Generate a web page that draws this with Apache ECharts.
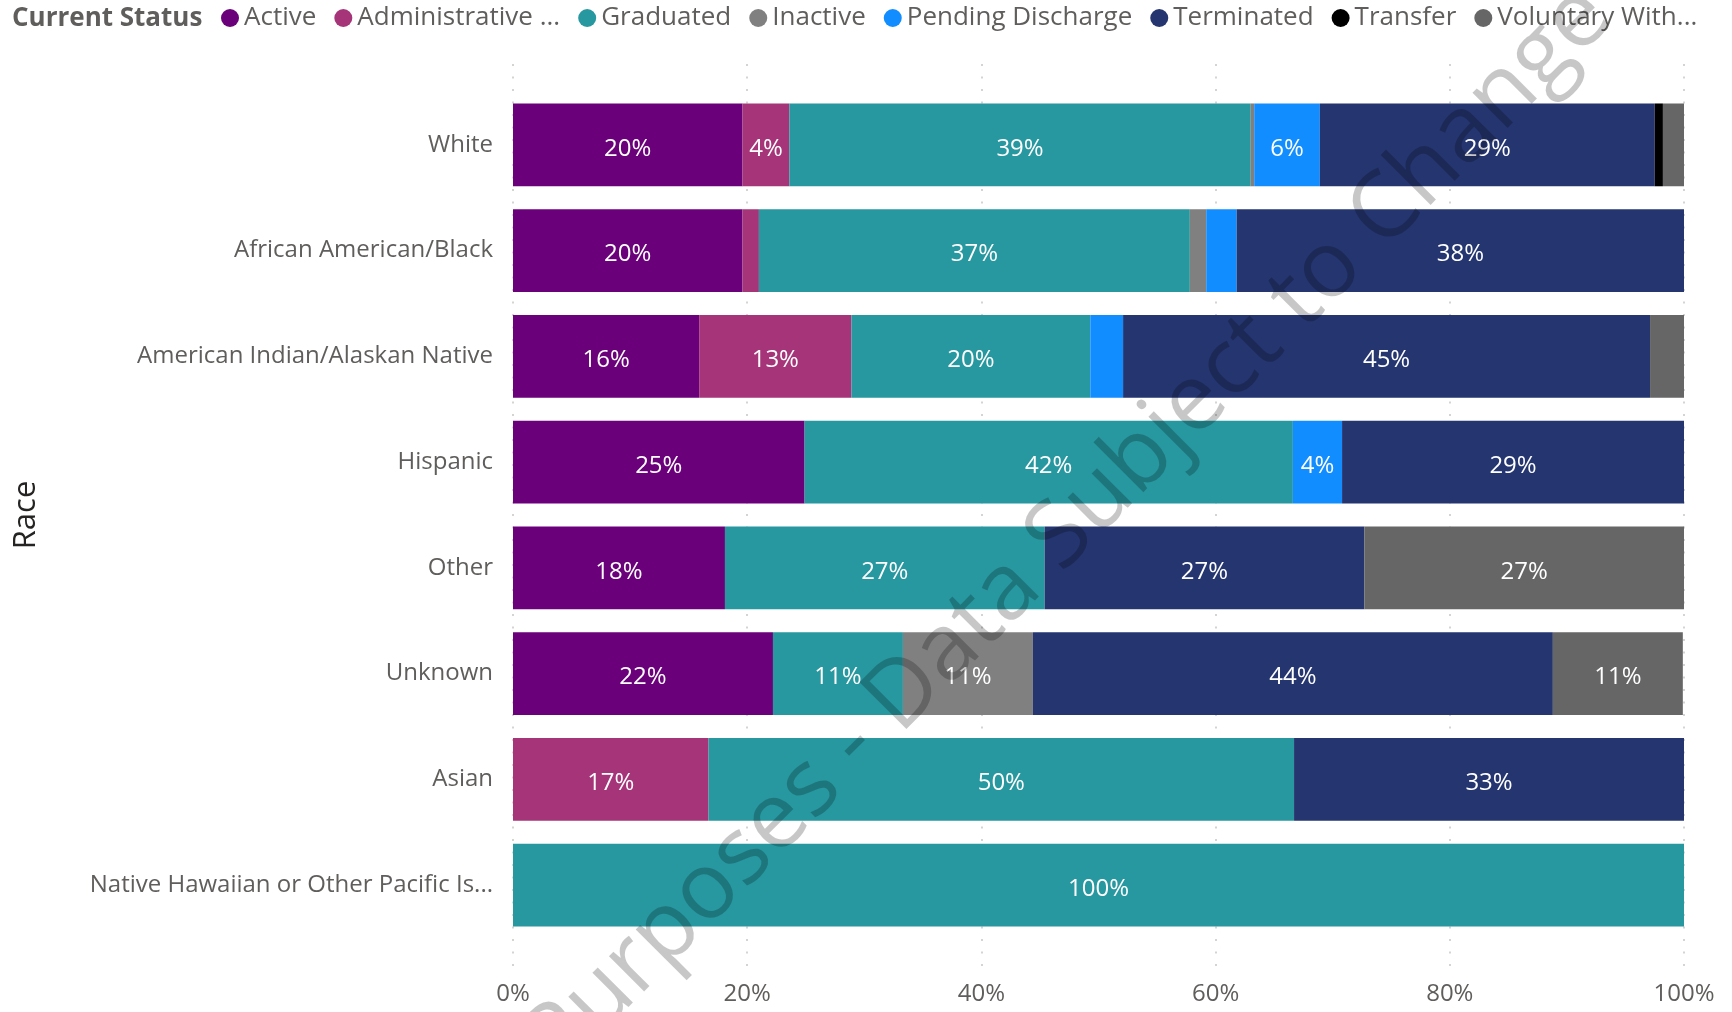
<!DOCTYPE html>
<html>
<head>
<meta charset="utf-8">
<script src="https://cdn.jsdelivr.net/npm/echarts@6/dist/echarts.min.js"></script>
<style>
  html, body { margin: 0; padding: 0; background: #fff; }
  #chart { width: 1732px; height: 1012px; }
</style>
</head>
<body>
<div id="chart"></div>
<script>
var races = ['White', 'African American/Black', 'American Indian/Alaskan Native', 'Hispanic',
    'Other', 'Unknown', 'Asian', 'Native Hawaiian or Other Pacific Is...'];
var statuses = ['Active', 'Administrative ...', 'Graduated', 'Inactive', 'Pending Discharge',
    'Terminated', 'Transfer', 'Voluntary With...'];
var colors = ['#6B007B', '#A53479', '#2798A0', '#808080', '#118DFF', '#243570', '#000000', '#666666'];

// percent of each race, per status
var active     = [19.6, 19.6, 15.9, 24.9, 18.1, 22.2, 0, 0];
var admin      = [4.0, 1.4, 13.0, 0, 0, 0, 16.7, 0];
var graduated  = [39.4, 36.8, 20.4, 41.7, 27.3, 11.1, 50.0, 100];
var inactive   = [0.3, 1.4, 0, 0, 0, 11.1, 0, 0];
var pending    = [5.6, 2.6, 2.8, 4.2, 0, 0, 0, 0];
var terminated = [28.6, 38.2, 45.0, 29.2, 27.3, 44.4, 33.3, 0];
var transfer   = [0.7, 0, 0, 0, 0, 0, 0, 0];
var voluntary  = [1.8, 0, 2.9, 0, 27.3, 11.1, 0, 0];

var xTicks = [0, 20, 40, 60, 80, 100];

var font = 'Open Sans';
var chart = echarts.init(document.getElementById('chart'));

var series = [active, admin, graduated, inactive, pending, terminated, transfer, voluntary].map(function (vals, i) {
    return {
        name: statuses[i],
        type: 'bar',
        stack: 'total',
        xAxisIndex: 0,
        yAxisIndex: 0,
        barCategoryGap: '21.7%',
        itemStyle: { color: colors[i] },
        label: {
            show: true,
            position: 'inside',
            offset: [0, 4],
            color: '#fff',
            fontFamily: font,
            fontSize: 24,
            formatter: function (p) {
                return p.value >= 3.5 ? Math.round(p.value) + '%' : '';
            }
        },
        data: vals
    };
});

chart.setOption({
    animation: false,
    color: colors,
    legend: {
        left: 221,
        top: 3,
        padding: 0,
        icon: 'circle',
        itemWidth: 18,
        itemHeight: 18,
        itemGap: 18,
        textStyle: { fontFamily: font, fontSize: 26, color: '#605E5C', lineHeight: 30 },
        data: statuses
    },
    grid: [
        { left: 513, right: 48, top: 92, height: 846 },
        { left: 513, right: 48, top: 64, bottom: 42 }
    ],
    xAxis: [
        { gridIndex: 0, type: 'value', min: 0, max: 100, show: false },
        {
            gridIndex: 1, type: 'value', min: xTicks[0], max: xTicks[xTicks.length - 1], interval: 20,
            axisLine: { show: false },
            axisTick: { show: false },
            axisLabel: {
                margin: 12, fontFamily: font, fontSize: 24, color: '#605E5C',
                formatter: '{value}%'
            },
            splitLine: { show: true, lineStyle: { color: '#C8C6C4', width: 1.5, type: [2, 10.5] } }
        }
    ],
    yAxis: [
        {
            gridIndex: 0, type: 'category', inverse: true, data: races,
            axisLine: { show: false },
            axisTick: { show: false },
            axisLabel: { margin: 20, fontFamily: font, fontSize: 24, color: '#605E5C', padding: [8, 0, 0, 0] }
        },
        { gridIndex: 1, type: 'value', show: false, min: 0, max: 1 }
    ],
    graphic: [
        {
            type: 'text', x: 12, y: 19,
            style: { text: 'Current Status', fontFamily: font, fontWeight: 'bold', fontSize: 26, fill: '#605E5C', textVerticalAlign: 'middle' }
        },
        {
            type: 'text', x: 26, y: 515, rotation: Math.PI / 2,
            style: { text: 'Race', fontFamily: font, fontSize: 31, fill: '#252423', textAlign: 'center', textVerticalAlign: 'middle' }
        },
        {
            type: 'text', x: 1068, y: 530, rotation: Math.PI / 4, z: 100, silent: true,
            style: { text: 'Purposes - Data Subject to Change', fontFamily: font, fontSize: 93, fill: 'rgba(0,0,0,0.22)', textAlign: 'center', textVerticalAlign: 'middle' }
        }
    ],
    series: series
});
</script>
</body>
</html>
